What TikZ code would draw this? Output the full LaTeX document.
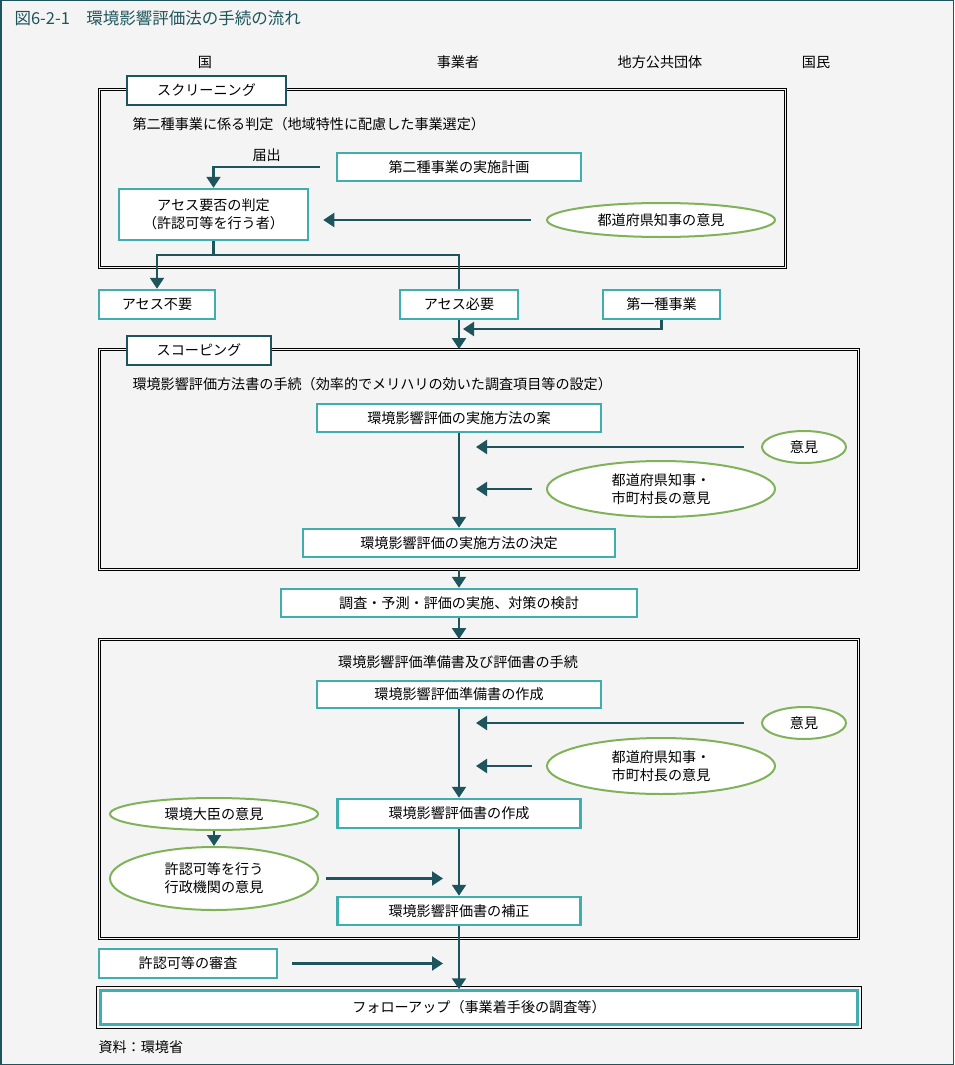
\documentclass[tikz,border=0pt]{standalone}
\usepackage{fontspec}
\setmainfont{Noto Sans CJK JP}
\usetikzlibrary{shapes.geometric,arrows.meta,positioning,calc}
\definecolor{frameteal}{RGB}{30,84,92}
\definecolor{boxteal}{RGB}{64,174,174}
\definecolor{ovalgreen}{RGB}{128,178,90}
\definecolor{bggray}{RGB}{244,244,244}
\newcommand{\diagfont}{\fontsize{14.1pt}{18pt}\selectfont}

\tikzset{
  stepbox/.style={rectangle, draw=boxteal, line width=2.5pt, fill=white, inner sep=0pt, align=center},
  opinion/.style={ellipse, draw=ovalgreen, line width=2pt, fill=white, inner sep=0pt, align=center},
  stagebox/.style={rectangle, draw=black, double=bggray, double distance=1.8pt, line width=0.9pt, inner sep=0pt},
  stagetag/.style={rectangle, draw=frameteal, line width=2.5pt, fill=white, inner sep=0pt},
  flow/.style={-{Triangle[width=14pt,length=11pt]}, draw=frameteal, line width=2.2pt},
  link/.style={draw=frameteal, line width=2.2pt}
}

\begin{document}
\begin{tikzpicture}[x=1pt, y=-1pt, font=\diagfont]
    \useasboundingbox (0,0) rectangle (954,1065);
    % Background and outer frame
    \fill[bggray] (0,0) rectangle (954,1065);
    \draw[frameteal, line width=1.5pt] (0.75,0.75) rectangle (953.25,1064.25);
    \node[anchor=west, text=frameteal, font=\fontsize{16.5pt}{20pt}\selectfont] (title) at (11,18) {図6-2-1　環境影響評価法の手続の流れ};

    % Column headers
    \node (hdgov) at (205,62) {国};
    \node (hdbiz) at (458,62) {事業者};
    \node (hdlocal) at (660,62) {地方公共団体};
    \node (hdpub) at (816,62) {国民};

    % Stage frames
    \node[stagebox, minimum width=686pt, minimum height=178pt] (scrframe) at (442.5,178.5) {};
    \node[stagebox, minimum width=759pt, minimum height=220pt] (scpframe) at (479,459.5) {};
    \node[stagebox, minimum width=759pt, minimum height=299pt] (evlframe) at (479,789) {};

    % Screening
    \node[stagetag, minimum width=159pt, minimum height=29pt] (scrtag) at (206.5,90.5) {スクリーニング};
    \node[anchor=west] (scrnote) at (129,124) {第二種事業に係る判定（地域特性に配慮した事業選定）};
    \node[stepbox, minimum width=244pt, minimum height=28pt] (plan2) at (459,167) {第二種事業の実施計画};
    \node[stepbox, minimum width=189pt, minimum height=51pt] (judge) at (213.5,214.5) {アセス要否の判定\\（許認可等を行う者）};
    \node[opinion, minimum width=228pt, minimum height=34pt] (pref1) at (661,220) {都道府県知事の意見};

    \node[stepbox, minimum width=116pt, minimum height=29pt] (noneed) at (157,304.5) {アセス不要};
    \node[stepbox, minimum width=118pt, minimum height=29pt] (need) at (459,304.5) {アセス必要};
    \node[stepbox, minimum width=117pt, minimum height=29pt] (type1) at (661.5,304.5) {第一種事業};
    \coordinate (type1join) at (463,329);

    \draw[flow] ([xshift=-16pt]plan2.west) -| node[pos=0.25, above=1pt] (notice) {届出} (judge.north);
    \draw[flow] ([xshift=-15pt]pref1.west) -- ($(judge.east |- pref1.west)+(14,0)$);
    \draw[flow] (judge.south) -- ++(0,14) -| (noneed.north);
    \draw[link] (judge.south) -- ++(0,14) -| (need.north);
    \draw[flow] (type1.south) |- (type1join);
    \draw[flow] (need.south) -- (need.south |- scpframe.north);

    % Scoping
    \node[stagetag, minimum width=144pt, minimum height=29pt] (scptag) at (199,350.5) {スコーピング};
    \node[anchor=west] (scpnote) at (129,384) {環境影響評価方法書の手続（効率的でメリハリの効いた調査項目等の設定）};
    \node[stepbox, minimum width=284pt, minimum height=28pt] (draftplan) at (459,418) {環境影響評価の実施方法の案};
    \node[stepbox, minimum width=312pt, minimum height=28pt] (fixplan) at (459,543) {環境影響評価の実施方法の決定};
    \node[opinion, minimum width=84pt, minimum height=32pt] (pubop1) at (804,447) {意見};
    \node[opinion, minimum width=228pt, minimum height=56pt] (localop1) at (661,489) {都道府県知事・\\市町村長の意見};

    \draw[flow] (draftplan) -- (fixplan);
    \draw[flow] ([xshift=-17pt]pubop1.west) -- ($(pubop1.west -| draftplan.south)+(17,0)$);
    \draw[flow] ([xshift=-14pt]localop1.west) -- ($(localop1.west -| draftplan.south)+(17,0)$);

    % Survey
    \node[stepbox, minimum width=356pt, minimum height=28pt] (survey) at (459,603) {調査・予測・評価の実施、対策の検討};
    \draw[flow] (scpframe.south -| survey.north) -- (survey.north);
    \draw[flow] (survey.south) -- (survey.south |- evlframe.north);

    % Draft and final statements
    \node (evlnote) at (458,662) {環境影響評価準備書及び評価書の手続};
    \node[stepbox, minimum width=284pt, minimum height=27pt] (draftrep) at (459,694.5) {環境影響評価準備書の作成};
    \node[opinion, minimum width=84pt, minimum height=32pt] (pubop2) at (804,723) {意見};
    \node[opinion, minimum width=228pt, minimum height=56pt] (localop2) at (661,766) {都道府県知事・\\市町村長の意見};
    \node[stepbox, minimum width=243pt, minimum height=29pt] (finalrep) at (459,813.5) {環境影響評価書の作成};
    \node[stepbox, minimum width=243pt, minimum height=28pt] (revrep) at (459,911) {環境影響評価書の補正};
    \node[opinion, minimum width=208pt, minimum height=32pt] (envmin) at (214,814) {環境大臣の意見};
    \node[opinion, minimum width=208pt, minimum height=63pt] (agency) at (214,878.5) {許認可等を行う\\行政機関の意見};

    \draw[flow] (draftrep) -- (finalrep);
    \draw[flow] ([xshift=-17pt]pubop2.west) -- ($(pubop2.west -| draftrep.south)+(17,0)$);
    \draw[flow] ([xshift=-14pt]localop2.west) -- ($(localop2.west -| draftrep.south)+(17,0)$);
    \draw[flow] (envmin) -- (agency);
    \draw[flow] ([xshift=7pt]agency.east) -- ($(agency.east -| revrep.north)+(-16,0)$);
    \draw[flow] (finalrep) -- (revrep);

    % Permission review and follow-up
    \node[stepbox, minimum width=178pt, minimum height=29pt] (permit) at (188,963.5) {許認可等の審査};
    \node[stepbox, minimum width=757pt, minimum height=34pt] (follow) at (479,1007.5) {フォローアップ（事業着手後の調査等）};
    \draw[black, line width=1pt] ([xshift=-2.5pt,yshift=2.5pt]follow.north west) rectangle ([xshift=2.5pt,yshift=-2.5pt]follow.south east);
    \draw[flow] (revrep.south) -- (revrep.south |- follow.north);
    \draw[flow] ([xshift=14pt]permit.east) -- ($(permit.east -| revrep.south)+(-16,0)$);

    \node[anchor=west] (source) at (95,1047) {資料：環境省};
\end{tikzpicture}
\end{document}
